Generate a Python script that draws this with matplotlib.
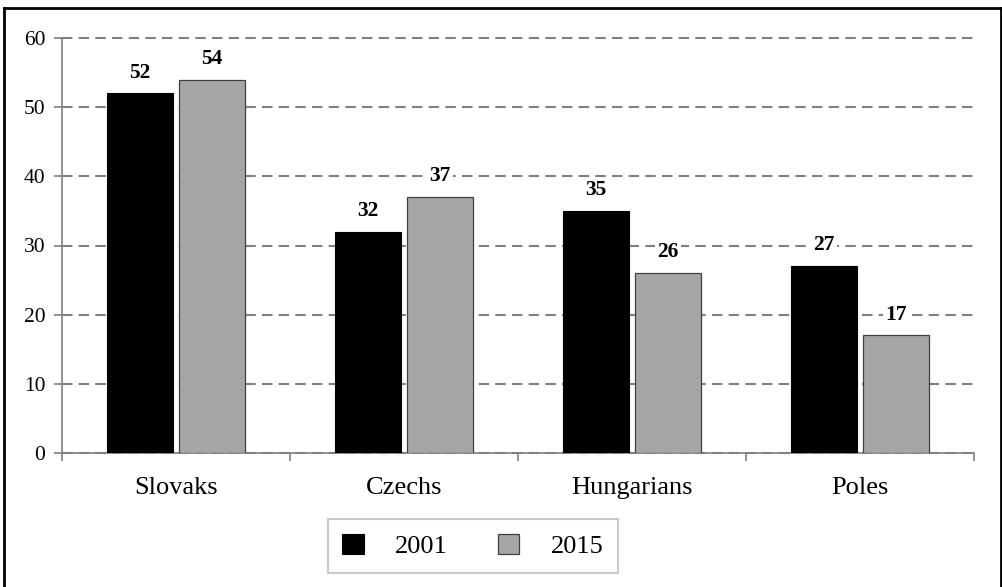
import matplotlib
matplotlib.use("Agg")
import matplotlib.pyplot as plt
from matplotlib.lines import Line2D
import numpy as np

categories = ["Slovaks", "Czechs", "Hungarians", "Poles"]
series_names = ["2001", "2015"]
values_2001 = [52, 32, 35, 27]
values_2015 = [54, 37, 26, 17]
yticks = [0, 10, 20, 30, 40, 50, 60]

plt.rcParams['font.family'] = ['Liberation Serif', 'DejaVu Serif']

W, H = 1003, 587
fig = plt.figure(figsize=(W / 100, H / 100), dpi=100)
ax = fig.add_axes([62 / W, (H - 453) / H, (974 - 62) / W, (453 - 38) / H])

x = np.arange(len(categories))
bw = 0.288
gap = 0.013
b1 = ax.bar(x - bw / 2 - gap, values_2001, width=bw, color="black", edgecolor="black",
            linewidth=0.8, label=series_names[0], zorder=3)
b2 = ax.bar(x + bw / 2 + gap, values_2015, width=bw, color="#A6A6A6", edgecolor="#404040",
            linewidth=0.9, label=series_names[1], zorder=3)

for bars, vals in ((b1, values_2001), (b2, values_2015)):
    for rect, v in zip(bars, vals):
        ax.annotate(str(v), (rect.get_x() + rect.get_width() / 2, v),
                    xytext=(0, 15), textcoords="offset points", ha="center", va="center",
                    fontsize=15.5, fontweight="bold", zorder=5,
                    bbox=dict(facecolor="white", edgecolor="none", pad=1.5))

ax.set_xlim(-0.5, len(categories) - 0.5)
ax.set_ylim(0, 60)
ax.set_yticks(yticks)
ax.set_yticklabels([str(t) for t in yticks], fontsize=15.5)
ax.yaxis.grid(True, linestyle=(0, (5, 3)), color="#808080", linewidth=1.5, zorder=0)
for gl in ax.get_ygridlines():
    gl.set_clip_on(False)
ax.set_axisbelow(True)

ax.set_xticks(x)
ax.set_xticklabels(categories, fontsize=19)
ax.tick_params(axis="x", length=0, pad=17)
ax.set_xticks(np.arange(-0.5, len(categories) + 0.5, 1), minor=True)
ax.tick_params(axis="x", which="minor", length=6, color="#808080", width=1.2)
ax.tick_params(axis="y", length=6, color="#808080", width=1.2, pad=6)

for s in ["top", "right"]:
    ax.spines[s].set_visible(False)
for s in ["left", "bottom"]:
    ax.spines[s].set_color("#808080")
    ax.spines[s].set_linewidth(1.2)

leg = fig.legend(handles=[b1, b2], labels=series_names, loc="center",
                 bbox_to_anchor=(473 / W, (H - 546) / H), ncol=2, fontsize=19,
                 frameon=True, fancybox=False, edgecolor="#BFBFBF",
                 handlelength=0.8, handleheight=0.8, columnspacing=1.9,
                 handletextpad=1.2, borderpad=0.55, borderaxespad=0)
leg.get_frame().set_linewidth(1.5)

# outer border
lw = 2
fig.add_artist(Line2D([4 / W, 4 / W], [0, (H - 8) / H], color="black", lw=lw, transform=fig.transFigure))
fig.add_artist(Line2D([4 / W, 1002 / W], [(H - 8) / H, (H - 8) / H], color="black", lw=lw, transform=fig.transFigure))
fig.add_artist(Line2D([1001.5 / W, 1001.5 / W], [0, (H - 8) / H], color="black", lw=lw, transform=fig.transFigure))

fig.savefig("out.png", dpi=100)
